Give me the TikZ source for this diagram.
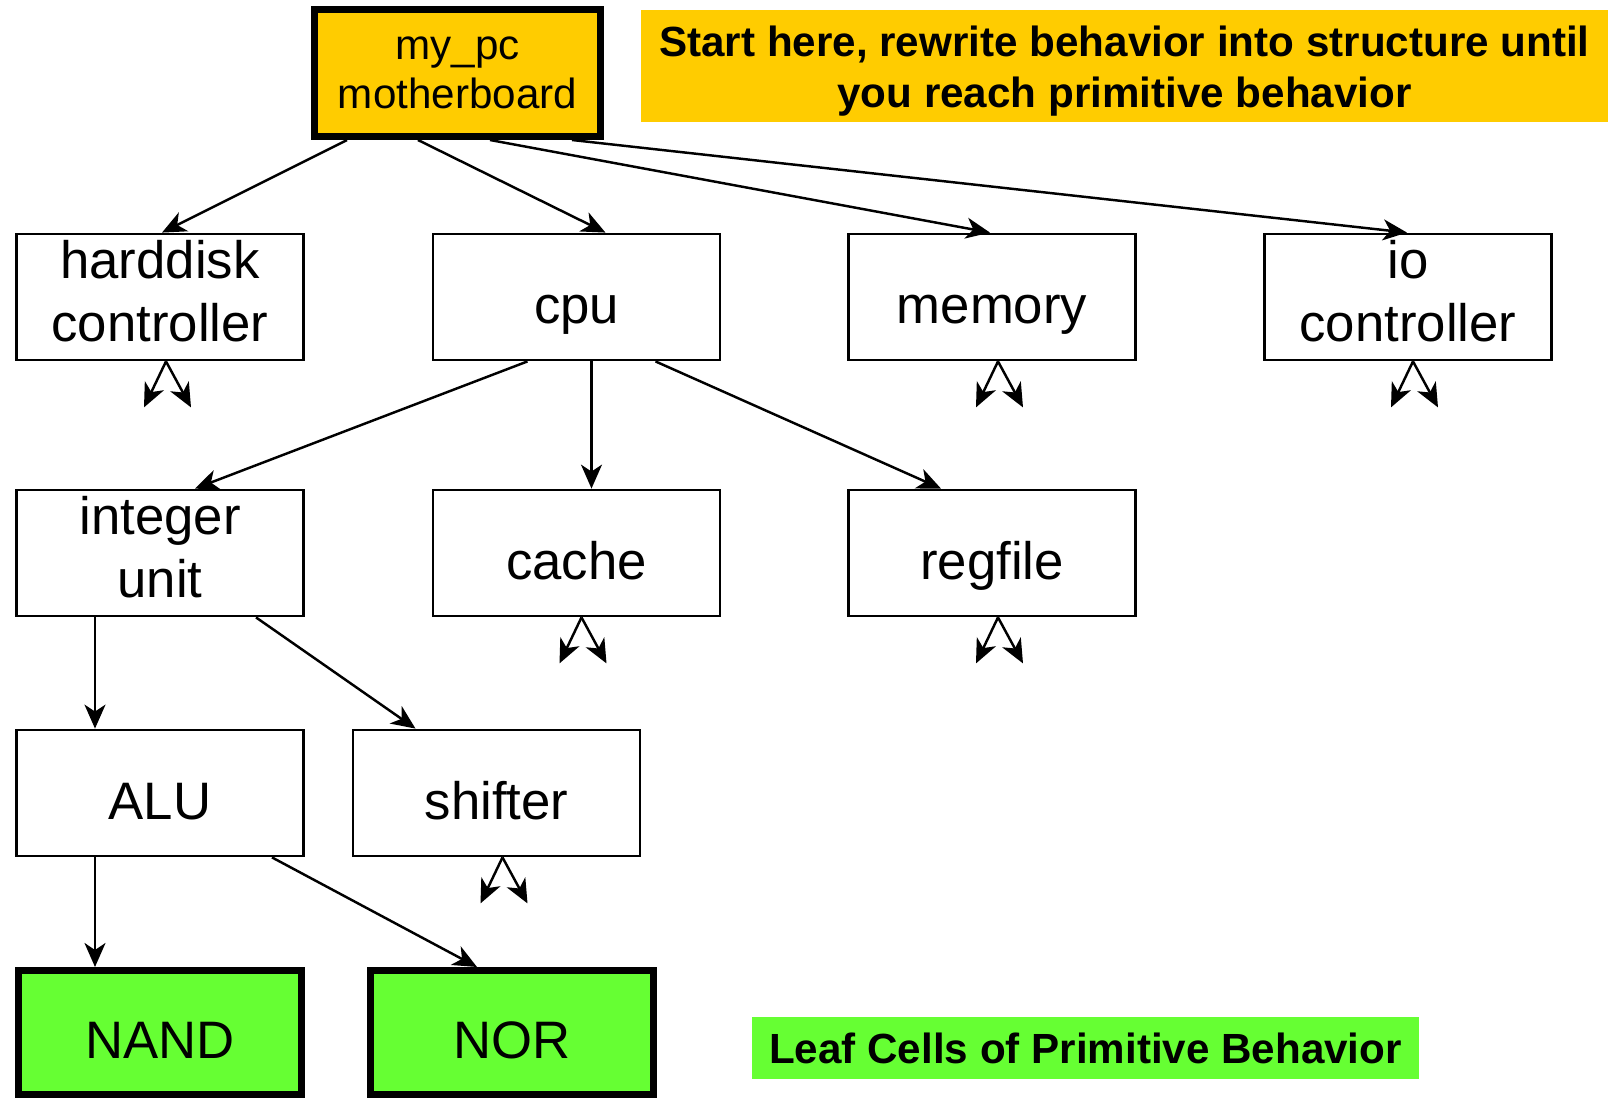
\documentclass[tikz,border=0pt]{standalone}
\usepackage{fontspec}
\setmainfont{Liberation Sans}
\usetikzlibrary{arrows.meta}
\definecolor{pcyellow}{HTML}{FFCC00}
\definecolor{leafgreen}{HTML}{66FF33}
% struts that nudge two-line labels up or down
\newcommand{\lowstrut}{\rule[-3.4pt]{0pt}{3.4pt}}
\newcommand{\highstrut}{\rule{0pt}{11.6pt}}

\begin{document}
\begin{tikzpicture}[x=0.1mm, y=-0.1mm,
  cell/.style={draw, line width=0.8pt, minimum width=28.7mm, minimum height=12.6mm,
    inner sep=0pt, align=center, font=\fontsize{15}{18}\selectfont},
  oneline/.style={cell, text height=14.8pt, text depth=0pt},
  topcell/.style={cell, fill=pcyellow, line width=2pt, minimum width=28.6mm,
    minimum height=12.7mm, font=\fontsize{12}{14}\selectfont},
  leafcell/.style={oneline, fill=leafgreen, line width=2pt, minimum width=28.3mm,
    minimum height=12.4mm},
  note/.style={inner sep=0pt, align=center, font=\fontsize{12}{14.5}\selectfont\bfseries},
  arr/.style={-{Stealth[length=2.4mm,width=2.1mm,inset=0.7mm]}, line width=0.7pt}]
\useasboundingbox (0,0) rectangle (1608,1102);
% top of the hierarchy
\node[topcell] (mypc) at (457.5,73) {my\_pc\\motherboard};
\node[note, fill=pcyellow, minimum width=96.7mm, minimum height=11.2mm] (start) at (1124.5,66)
  {\highstrut Start here, rewrite behavior into structure until\\you reach primitive behavior};
% first level
\node[cell] (hd) at (160,297) {harddisk\\controller\lowstrut};
\node[oneline] (cpu) at (576.5,297) {cpu};
\node[oneline] (mem) at (992,297) {memory};
\node[cell] (io) at (1408,297) {io\\controller\lowstrut};
% second level
\node[cell] (int) at (160,553) {integer\\unit\lowstrut};
\node[oneline] (cache) at (576.5,553) {cache};
\node[oneline] (reg) at (992,553) {regfile};
% third level
\node[oneline] (alu) at (160,793) {ALU};
\node[oneline] (shift) at (496.5,793) {shifter};
% leaf cells
\node[leafcell] (nand) at (160,1032.5) {NAND};
\node[leafcell] (nor) at (512,1032.5) {NOR};
\node[note, fill=leafgreen, minimum width=66.7mm, minimum height=6.2mm] (leaf) at (1085.5,1048)
  {Leaf Cells of Primitive Behavior};

\draw[arr] ([xshift=3.6mm]mypc.south west) -- ([xshift=0.2mm]hd.north);
\draw[arr] ([xshift=10.7mm]mypc.south west) -- ([xshift=2.9mm]cpu.north);
\draw[arr] ([xshift=17.9mm]mypc.south west) -- ([xshift=-0.2mm]mem.north);
\draw[arr] ([xshift=26.1mm]mypc.south west) -- ([xshift=-0.1mm]io.north);
\draw[arr] ([xshift=-4.9mm]cpu.south) -- ([xshift=3.5mm]int.north);
\draw[arr] ([xshift=1.5mm]cpu.south) -- ([xshift=1.5mm]cache.north);
\draw[arr] ([xshift=7.9mm]cpu.south) -- ([xshift=-5.1mm]reg.north);
\draw[arr] ([xshift=-6.5mm]int.south) -- ([xshift=-6.5mm]alu.north);
\draw[arr] ([xshift=9.6mm]int.south) -- ([xshift=-8.1mm]shift.north);
\draw[arr] ([xshift=-6.5mm]alu.south) -- ([xshift=-6.5mm]nand.north);
\draw[arr] ([xshift=11.2mm]alu.south) -- ([xshift=-3.5mm]nor.north);

% unexpanded children
\foreach \n/\dx in {hd/0.6, mem/0.6, io/0.5, cache/0.5, reg/0.6, shift/0.6} {
  \draw[arr] ([xshift=\dx mm]\n.south) -- ++(-22,46);
  \draw[arr] ([xshift=\dx mm]\n.south) -- ++(25,46);
}
\end{tikzpicture}
\end{document}
